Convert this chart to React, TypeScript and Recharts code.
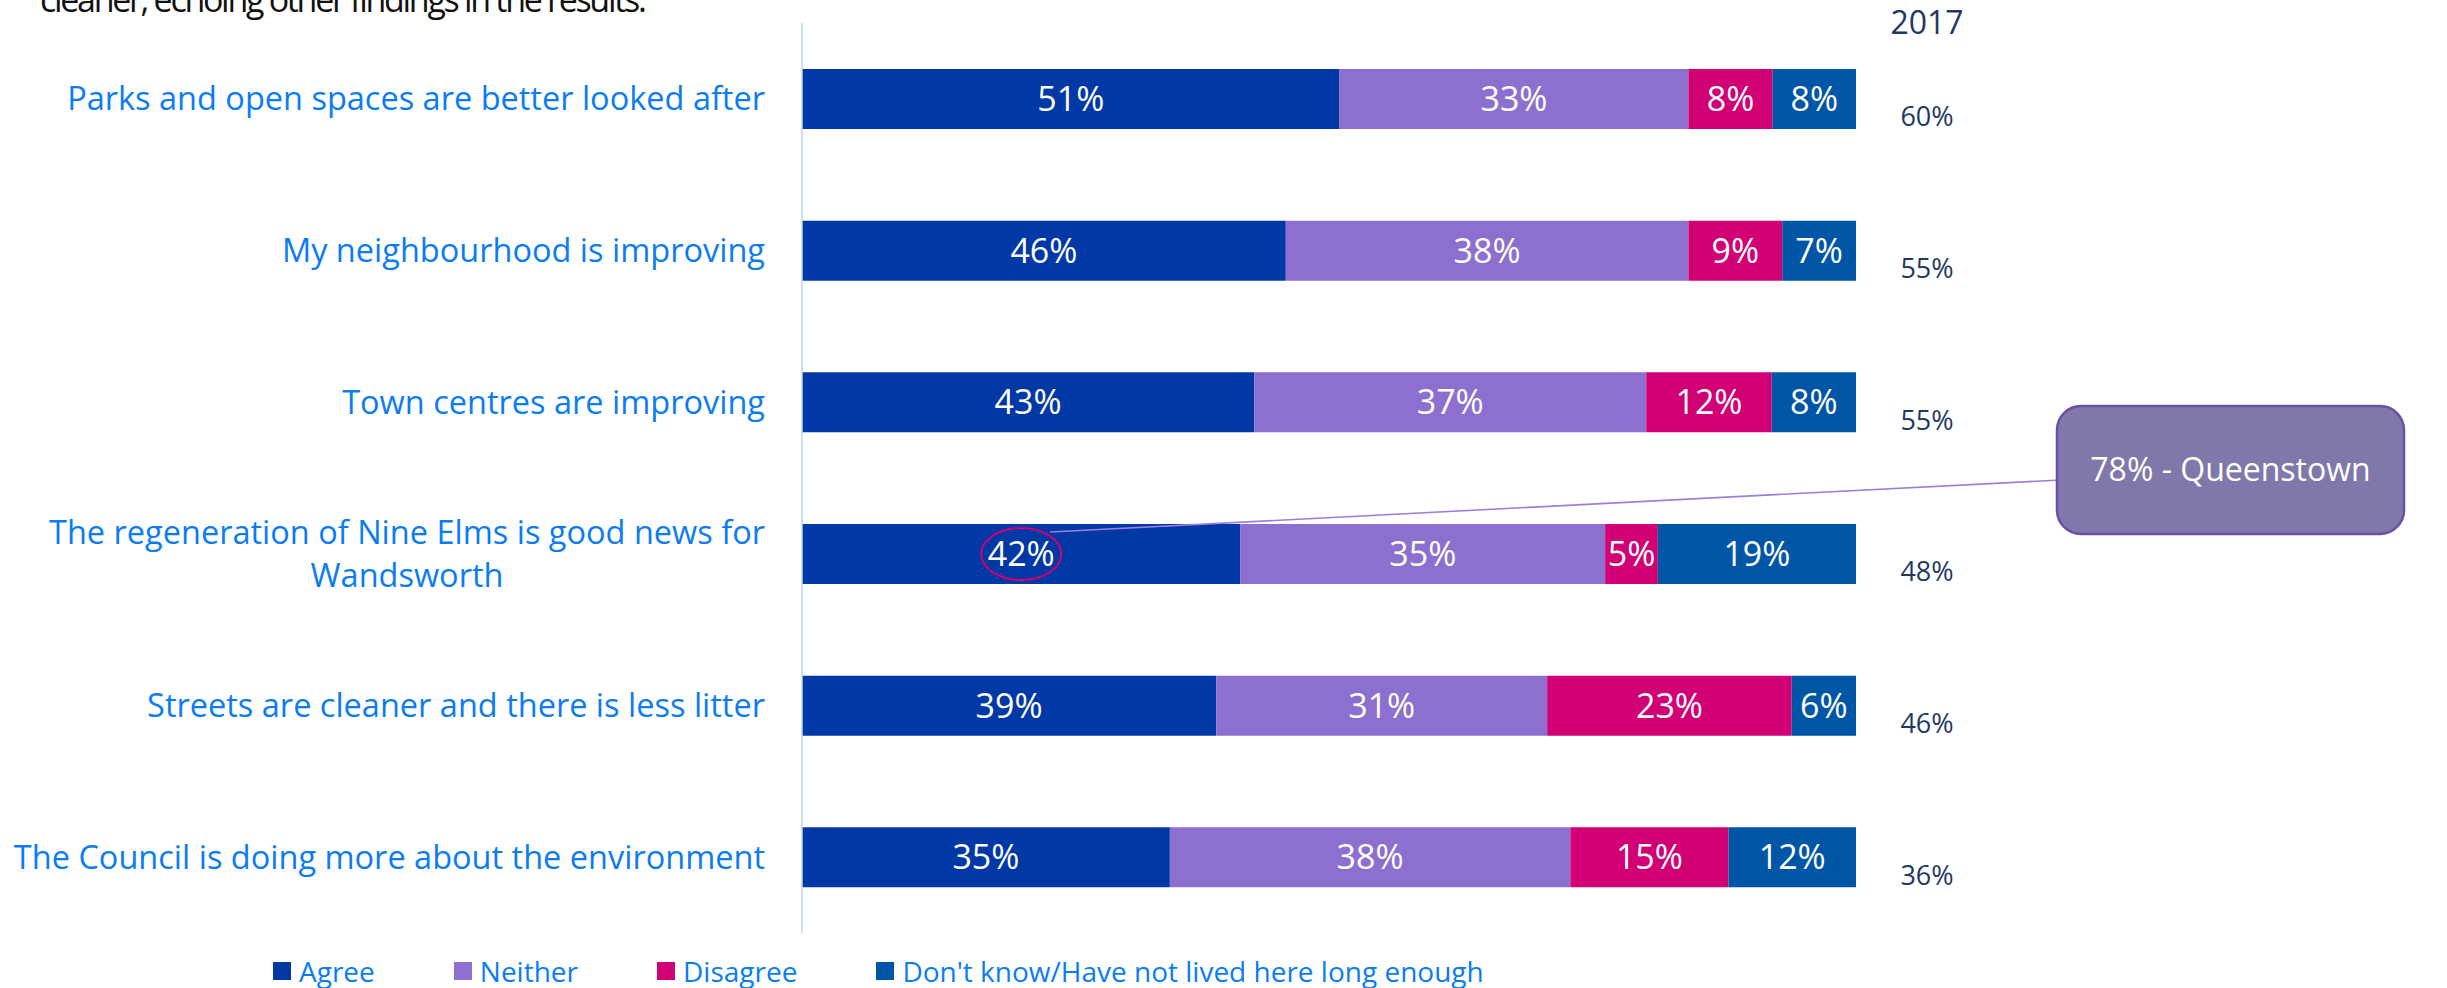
import React from 'react';
import { BarChart, Bar, XAxis, YAxis, LabelList, Legend } from 'recharts';

const categories = [
  'Parks and open spaces are better looked after',
  'My neighbourhood is improving',
  'Town centres are improving',
  'The regeneration of Nine Elms is good news for\nWandsworth',
  'Streets are cleaner and there is less litter',
  'The Council is doing more about the environment',
];
const agree = [51.0, 45.9, 42.9, 41.6, 39.3, 34.9];
const neither = [33.1, 38.2, 37.2, 34.6, 31.4, 38.0];
const disagree = [8.0, 8.9, 11.9, 5.0, 23.2, 15.0];
const dontKnow = [7.9, 7.0, 8.0, 18.8, 6.1, 12.1];
const values2017 = ['60%', '55%', '55%', '48%', '46%', '36%'];
const header2017 = '2017';
const seriesNames = ['Agree', 'Neither', 'Disagree', "Don't know/Have not lived here long enough"];
const calloutText = '78% - Queenstown';
const introText = 'cleaner, echoing other findings in the results.';

const data = categories.map((name, i) => ({
  name,
  agree: agree[i],
  neither: neither[i],
  disagree: disagree[i],
  dontKnow: dontKnow[i],
  v2017: values2017[i],
}));

const FONT = "'Open Sans', sans-serif";
const CAT_COLOR = '#0B7CF2';
const NAVY = '#1F3864';
const COLORS = ['#0038A6', '#8D6FD0', '#D10074', '#0056A6'];

let ctx: CanvasRenderingContext2D | null = null;
const measure = (text: string, font: string) => {
  if (!ctx) ctx = document.createElement('canvas').getContext('2d');
  if (!ctx) return text.length * 15;
  ctx.font = font;
  return ctx.measureText(text).width;
};

const CAT_SIZE = 32.5;
const CategoryTick = (props: any) => {
  const { x, y, payload } = props;
  const lines = String(payload.value).split('\n');
  if (lines.length === 1) {
    return (
      <text x={x} y={y} dy="0.35em" textAnchor="end" fill={CAT_COLOR} fontSize={CAT_SIZE} fontFamily={FONT}>
        {lines[0]}
      </text>
    );
  }
  const w = measure(lines[0], `${CAT_SIZE}px 'Open Sans'`);
  const cx = x - w / 2;
  const lh = 43;
  return (
    <g>
      {lines.map((l, i) => (
        <text key={i} x={cx} y={y + (i - (lines.length - 1) / 2) * lh} dy="0.35em" textAnchor="middle"
          fill={CAT_COLOR} fontSize={CAT_SIZE} fontFamily={FONT}>
          {l}
        </text>
      ))}
    </g>
  );
};

const RightTick = (props: any) => {
  const { x, y, index } = props;
  return (
    <g>
      {index === 0 && (
        <text x={x + 71} y={y - 76} dy="0.35em" textAnchor="middle" fill={NAVY} fontSize={32} fontFamily={FONT}>
          {header2017}
        </text>
      )}
      <text x={x + 71} y={y + 18} dy="0.35em" textAnchor="middle" fill={NAVY} fontSize={27} fontFamily={FONT}>
        {values2017[index]}
      </text>
    </g>
  );
};

const fmt = (v: any) => `${Math.round(Number(v))}%`;

const SegLabel = (props: any) => {
  const { x, y, width, height, value } = props;
  return (
    <text x={x + width / 2} y={y + height / 2} dy="0.35em" textAnchor="middle" fill="#FFFFFF" fontSize={34} fontFamily={FONT}>
      {fmt(value)}
    </text>
  );
};

const AgreeLabel = (props: any) => {
  const { x, y, width, height, index } = props;
  const cx = x + width / 2;
  const cy = y + height / 2;
  return (
    <g>
      <SegLabel {...props} />
      {index === 3 && (
        <g>
          <ellipse cx={cx} cy={cy} rx={40} ry={26} fill="none" stroke="#D10074" strokeWidth={2} />
          <line x1={cx + 29} y1={cy - 22} x2={2060} y2={480} stroke="#9B7FDB" strokeWidth={1.6} />
          <rect x={2057} y={406} width={347} height={128} rx={24} ry={24} fill="#8078AB" stroke="#6A4FA3" strokeWidth={2.5} />
          <text x={2057 + 347 / 2} y={470} dy="0.35em" textAnchor="middle" fill="#FFFFFF" fontSize={32} fontFamily={FONT}>
            {calloutText}
          </text>
        </g>
      )}
    </g>
  );
};

const LegendContent = (props: any) => {
  const payload = [...(props.payload || [])].sort(
    (a: any, b: any) => seriesNames.indexOf(a.value) - seriesNames.indexOf(b.value)
  );
  return (
    <div style={{ display: 'flex', alignItems: 'center', height: 30, paddingLeft: 273 }}>
      {payload.map((p: any, i: number) => (
        <div key={i} style={{ display: 'flex', alignItems: 'center', marginRight: 79 }}>
          <span style={{ display: 'inline-block', width: 18, height: 18, background: p.color, marginRight: 8 }} />
          <span style={{ color: CAT_COLOR, fontSize: 28, fontFamily: FONT, lineHeight: '30px', whiteSpace: 'nowrap' }}>{p.value}</span>
        </div>
      ))}
    </div>
  );
};

export default function App() {
  return (
    <div style={{ position: 'absolute', left: 0, top: 0, width: 2447, height: 988, background: '#fff' }}>
      <svg style={{ position: 'absolute', left: 0, top: 0 }} width={2447} height={30}>
        <text x={40} y={12} fill="#111" fontSize={34} fontFamily={FONT} letterSpacing={-2.3}>{introText}</text>
      </svg>
      <BarChart
        width={2447}
        height={988}
        data={data}
        layout="vertical"
        margin={{ top: 23, right: 491, bottom: 25, left: 0 }}
        barSize={60}
      >
        <XAxis type="number" domain={[0, 100]} hide />
        <YAxis
          type="category"
          dataKey="name"
          width={802}
          tickSize={0}
          tickMargin={37}
          axisLine={{ stroke: '#BDD7EE', strokeWidth: 1.5 }}
          tickLine={false}
          tick={<CategoryTick />}
          interval={0}
        />
        <YAxis
          yAxisId="right"
          orientation="right"
          type="category"
          dataKey="name"
          width={100}
          tickSize={0}
          tickMargin={0}
          axisLine={false}
          tickLine={false}
          tick={<RightTick />}
          interval={0}
        />
        <Legend
          verticalAlign="bottom"
          content={<LegendContent />}
          wrapperStyle={{ bottom: 2, left: 0, width: 2447 }}
        />
        <Bar dataKey="agree" name={seriesNames[0]} stackId="s" fill={COLORS[0]} isAnimationActive={false}>
          <LabelList dataKey="agree" content={<AgreeLabel />} />
        </Bar>
        <Bar dataKey="neither" name={seriesNames[1]} stackId="s" fill={COLORS[1]} isAnimationActive={false}>
          <LabelList dataKey="neither" content={<SegLabel />} />
        </Bar>
        <Bar dataKey="disagree" name={seriesNames[2]} stackId="s" fill={COLORS[2]} isAnimationActive={false}>
          <LabelList dataKey="disagree" content={<SegLabel />} />
        </Bar>
        <Bar dataKey="dontKnow" name={seriesNames[3]} stackId="s" fill={COLORS[3]} isAnimationActive={false}>
          <LabelList dataKey="dontKnow" content={<SegLabel />} />
        </Bar>
      </BarChart>
    </div>
  );
}
